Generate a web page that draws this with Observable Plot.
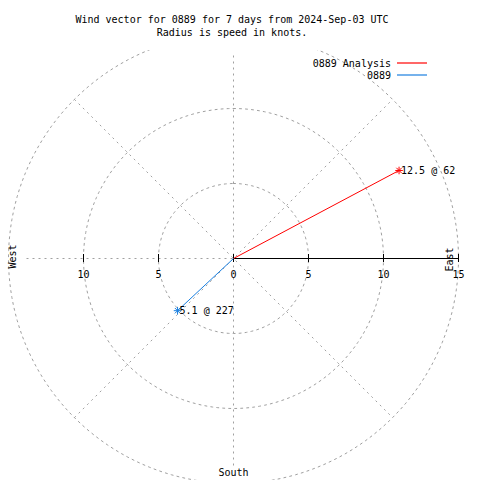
<!DOCTYPE html>
<html>
<head>
<meta charset="utf-8">
<script src="https://cdn.jsdelivr.net/npm/d3@7"></script>
<script src="https://cdn.jsdelivr.net/npm/@observablehq/plot@0.6"></script>
<style>
  html, body { margin: 0; padding: 0; background: #fff; }
  #chart svg { display: block; }
</style>
</head>
<body>
<div id="chart"></div>
<script>
// ---- data ----
const titleLines = ["Wind vector for 0889 for 7 days from 2024-Sep-03 UTC", "Radius is speed in knots."];
const seriesNames = ["0889 Analysis", "0889"];
const speeds = [12.5, 5.1];          // knots
const directions = [62, 227];        // degrees, clockwise from north
const seriesColors = ["#ff0000", "#1a7fe0"];
const rings = [5, 10, 15];
const tickValues = [-10, -5, 0, 5, 10, 15];
const spokeAngles = [0, 45, 90, 135];
const axisExtent = 13.8;
const compass = ["West", "East", "South"];

// ---- derived ----
const vectors = seriesNames.map((name, i) => {
  const a = directions[i] * Math.PI / 180;
  return {
    name, speed: speeds[i], dir: directions[i], color: seriesColors[i],
    x: speeds[i] * Math.sin(a), y: speeds[i] * Math.cos(a),
    label: `${speeds[i]} @ ${directions[i]}`
  };
});
const ringPts = rings.flatMap(r => d3.range(0, 361, 2).map(t => ({
  r, x: r * Math.sin(t * Math.PI / 180), y: r * Math.cos(t * Math.PI / 180)
})));
const outer = d3.max(rings);
const spokes = spokeAngles.filter(a => a % 90 !== 0).map(a => {
  const t = a * Math.PI / 180;
  return {x1: -outer * Math.sin(t), y1: -outer * Math.cos(t), x2: outer * Math.sin(t), y2: outer * Math.cos(t)};
});
const axes = [
  {x1: -axisExtent, y1: 0, x2: axisExtent, y2: 0},
  {x1: 0, y1: -axisExtent, x2: 0, y2: axisExtent}
];

const starSymbol = {
  draw(ctx, size) {
    const r = Math.sqrt(size / Math.PI);
    const d = r * Math.SQRT1_2;
    ctx.moveTo(-r, 0); ctx.lineTo(r, 0);
    ctx.moveTo(0, -r); ctx.lineTo(0, r);
    ctx.moveTo(-d, -d); ctx.lineTo(d, d);
    ctx.moveTo(-d, d); ctx.lineTo(d, -d);
  }
};

const font = "DejaVu Sans Mono, Liberation Mono, monospace";
const W = 480, H = 480, cx = 233, cy = 258, k = 15, plotTop = 50; // layout (pixels per knot)
const grid = {stroke: "#a0a0a0", strokeWidth: 1, strokeDasharray: "2,4", clip: true};

const chart = Plot.plot({
  width: W, height: H,
  marginTop: plotTop, marginRight: 0, marginBottom: 0, marginLeft: 0,
  style: {fontFamily: font, fontSize: "10px", background: "#fff", color: "#000"},
  x: {domain: [-cx / k, (W - cx) / k], range: [0, W], axis: null},
  y: {domain: [(cy - H) / k, (cy - plotTop) / k], range: [H, plotTop], axis: null},
  marks: [
    Plot.line(ringPts, {x: "x", y: "y", z: "r", ...grid}),
    Plot.link(spokes, {x1: "x1", y1: "y1", x2: "x2", y2: "y2", ...grid}),
    Plot.link(axes, {x1: "x1", y1: "y1", x2: "x2", y2: "y2", ...grid}),
    Plot.link([0], {x1: 0, y1: 0, x2: outer, y2: 0, stroke: "#000", strokeWidth: 1.2}),
    Plot.ruleX(tickValues, {x: d => d, y1: 0, y2: 0, insetTop: -4, insetBottom: -4, stroke: "#000", strokeWidth: 1}),
    Plot.text(tickValues, {x: d => d, y: 0, text: d => String(Math.abs(d)), dy: 16, fill: "#000", fontSize: 10}),
    Plot.link(vectors, {x1: 0, y1: 0, x2: "x", y2: "y", stroke: "color", strokeWidth: 1}),
    Plot.dot(vectors, {x: "x", y: "y", stroke: "color", symbol: starSymbol, r: 3.8, strokeWidth: 1}),
    Plot.text(vectors, {x: "x", y: "y", text: "label", textAnchor: "start", dx: 2, fill: "#000", fontSize: 10}),
    Plot.text([compass[0]], {frameAnchor: "left", y: 0, dx: 12, dy: -2, rotate: -90, textAnchor: "middle", fill: "#000", fontSize: 10}),
    Plot.text([compass[1]], {frameAnchor: "left", y: 0, dx: 449, dy: 1, rotate: -90, textAnchor: "middle", fill: "#000", fontSize: 10}),
    Plot.text([compass[2]], {frameAnchor: "bottom", x: 0, dy: -8, lineAnchor: "middle", fill: "#000", fontSize: 10})
  ]
});

const svg = d3.select(chart);
// title
const tg = svg.append("g").attr("font-family", font).attr("font-size", 10).attr("fill", "#000").attr("text-anchor", "middle");
titleLines.forEach((t, i) => tg.append("text").attr("x", 232).attr("y", 23 + i * 13).text(t));

// legend
const leg = svg.append("g").attr("font-family", font).attr("font-size", 10);
vectors.forEach((v, i) => {
  const y = 63 + i * 12;
  leg.append("text").attr("x", 391).attr("y", y).attr("dy", "0.35em").attr("text-anchor", "end").attr("fill", "#000").text(v.name);
  leg.append("line").attr("x1", 397).attr("x2", 427).attr("y1", y).attr("y2", y).attr("stroke", v.color).attr("stroke-width", 1.2);
});

document.getElementById("chart").appendChild(chart);
</script>
</body>
</html>
